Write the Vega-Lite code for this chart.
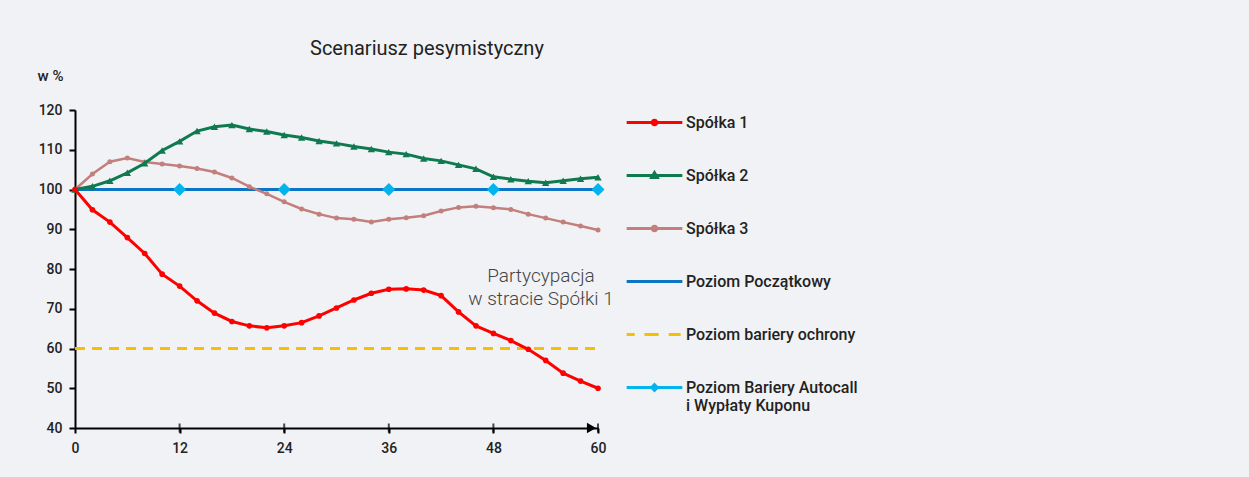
{
  "$schema": "https://vega.github.io/schema/vega-lite/v6.json",
  "width": 523,
  "height": 318,
  "autosize": {"type": "none"},
  "padding": {"left": 75, "top": 110, "right": 651, "bottom": 49},
  "background": "#f1f2f6",
  "title": {
    "text": "Scenariusz pesymistyczny",
    "anchor": "start",
    "frame": "group",
    "dx": 235,
    "offset": -7,
    "baseline": "alphabetic",
    "font": "Roboto",
    "fontSize": 20,
    "fontWeight": 400,
    "color": "#222"
  },
  "config": {"view": {"stroke": null}, "font": "Roboto"},
  "datasets": {
    "main": [
      {"s": "Spółka 1", "x": 0, "y": 100}, {"s": "Spółka 1", "x": 2, "y": 94.9}, {"s": "Spółka 1", "x": 4, "y": 91.8}, {"s": "Spółka 1", "x": 6, "y": 87.9}, {"s": "Spółka 1", "x": 8, "y": 83.9}, {"s": "Spółka 1", "x": 10, "y": 78.7}, {"s": "Spółka 1", "x": 12, "y": 75.7}, {"s": "Spółka 1", "x": 14, "y": 72}, {"s": "Spółka 1", "x": 16, "y": 68.9}, {"s": "Spółka 1", "x": 18, "y": 66.8}, {"s": "Spółka 1", "x": 20, "y": 65.7}, {"s": "Spółka 1", "x": 22, "y": 65.2}, {"s": "Spółka 1", "x": 24, "y": 65.7}, {"s": "Spółka 1", "x": 26, "y": 66.5}, {"s": "Spółka 1", "x": 28, "y": 68.2}, {"s": "Spółka 1", "x": 30, "y": 70.2}, {"s": "Spółka 1", "x": 32, "y": 72.2}, {"s": "Spółka 1", "x": 34, "y": 73.9}, {"s": "Spółka 1", "x": 36, "y": 74.9}, {"s": "Spółka 1", "x": 38, "y": 75}, {"s": "Spółka 1", "x": 40, "y": 74.7}, {"s": "Spółka 1", "x": 42, "y": 73.3}, {"s": "Spółka 1", "x": 44, "y": 69.2}, {"s": "Spółka 1", "x": 46, "y": 65.7}, {"s": "Spółka 1", "x": 48, "y": 63.8}, {"s": "Spółka 1", "x": 50, "y": 62}, {"s": "Spółka 1", "x": 52, "y": 59.8}, {"s": "Spółka 1", "x": 54, "y": 57}, {"s": "Spółka 1", "x": 56, "y": 53.8}, {"s": "Spółka 1", "x": 58, "y": 51.8}, {"s": "Spółka 1", "x": 60, "y": 50},
      {"s": "Spółka 2", "x": 0, "y": 100}, {"s": "Spółka 2", "x": 2, "y": 100.8}, {"s": "Spółka 2", "x": 4, "y": 102.2}, {"s": "Spółka 2", "x": 6, "y": 104.2}, {"s": "Spółka 2", "x": 8, "y": 106.6}, {"s": "Spółka 2", "x": 10, "y": 109.8}, {"s": "Spółka 2", "x": 12, "y": 112.1}, {"s": "Spółka 2", "x": 14, "y": 114.7}, {"s": "Spółka 2", "x": 16, "y": 115.8}, {"s": "Spółka 2", "x": 18, "y": 116.2}, {"s": "Spółka 2", "x": 20, "y": 115.2}, {"s": "Spółka 2", "x": 22, "y": 114.6}, {"s": "Spółka 2", "x": 24, "y": 113.7}, {"s": "Spółka 2", "x": 26, "y": 113.1}, {"s": "Spółka 2", "x": 28, "y": 112.2}, {"s": "Spółka 2", "x": 30, "y": 111.6}, {"s": "Spółka 2", "x": 32, "y": 110.8}, {"s": "Spółka 2", "x": 34, "y": 110.2}, {"s": "Spółka 2", "x": 36, "y": 109.4}, {"s": "Spółka 2", "x": 38, "y": 108.9}, {"s": "Spółka 2", "x": 40, "y": 107.8}, {"s": "Spółka 2", "x": 42, "y": 107.2}, {"s": "Spółka 2", "x": 44, "y": 106.2}, {"s": "Spółka 2", "x": 46, "y": 105.2}, {"s": "Spółka 2", "x": 48, "y": 103.2}, {"s": "Spółka 2", "x": 50, "y": 102.6}, {"s": "Spółka 2", "x": 52, "y": 102.1}, {"s": "Spółka 2", "x": 54, "y": 101.7}, {"s": "Spółka 2", "x": 56, "y": 102.2}, {"s": "Spółka 2", "x": 58, "y": 102.7}, {"s": "Spółka 2", "x": 60, "y": 103.1},
      {"s": "Spółka 3", "x": 0, "y": 100}, {"s": "Spółka 3", "x": 2, "y": 103.9}, {"s": "Spółka 3", "x": 4, "y": 107}, {"s": "Spółka 3", "x": 6, "y": 107.9}, {"s": "Spółka 3", "x": 8, "y": 106.9}, {"s": "Spółka 3", "x": 10, "y": 106.4}, {"s": "Spółka 3", "x": 12, "y": 105.9}, {"s": "Spółka 3", "x": 14, "y": 105.3}, {"s": "Spółka 3", "x": 16, "y": 104.4}, {"s": "Spółka 3", "x": 18, "y": 102.9}, {"s": "Spółka 3", "x": 20, "y": 100.7}, {"s": "Spółka 3", "x": 22, "y": 98.9}, {"s": "Spółka 3", "x": 24, "y": 96.9}, {"s": "Spółka 3", "x": 26, "y": 95.1}, {"s": "Spółka 3", "x": 28, "y": 93.8}, {"s": "Spółka 3", "x": 30, "y": 92.8}, {"s": "Spółka 3", "x": 32, "y": 92.5}, {"s": "Spółka 3", "x": 34, "y": 91.8}, {"s": "Spółka 3", "x": 36, "y": 92.5}, {"s": "Spółka 3", "x": 38, "y": 92.9}, {"s": "Spółka 3", "x": 40, "y": 93.4}, {"s": "Spółka 3", "x": 42, "y": 94.6}, {"s": "Spółka 3", "x": 44, "y": 95.5}, {"s": "Spółka 3", "x": 46, "y": 95.8}, {"s": "Spółka 3", "x": 48, "y": 95.4}, {"s": "Spółka 3", "x": 50, "y": 95}, {"s": "Spółka 3", "x": 52, "y": 93.8}, {"s": "Spółka 3", "x": 54, "y": 92.8}, {"s": "Spółka 3", "x": 56, "y": 91.8}, {"s": "Spółka 3", "x": 58, "y": 90.8}, {"s": "Spółka 3", "x": 60, "y": 89.8},
      {"s": "Poziom Początkowy", "x": 0, "y": 100}, {"s": "Poziom Początkowy", "x": 60, "y": 100},
      {"s": "Poziom bariery ochrony", "x": 0, "y": 60}, {"s": "Poziom bariery ochrony", "x": 60, "y": 60},
      {"s": "Poziom Bariery Autocall i Wypłaty Kuponu", "x": 12, "y": 100}, {"s": "Poziom Bariery Autocall i Wypłaty Kuponu", "x": 24, "y": 100}, {"s": "Poziom Bariery Autocall i Wypłaty Kuponu", "x": 36, "y": 100}, {"s": "Poziom Bariery Autocall i Wypłaty Kuponu", "x": 48, "y": 100}, {"s": "Poziom Bariery Autocall i Wypłaty Kuponu", "x": 60, "y": 100}
    ],
    "legendRows": [
      {"s": "Spółka 1", "x": 0, "y": 100},
      {"s": "Spółka 2", "x": 0, "y": 100},
      {"s": "Spółka 3", "x": 0, "y": 100},
      {"s": "Poziom Początkowy", "x": 0, "y": 100},
      {"s": "Poziom bariery ochrony", "x": 0, "y": 60},
      {"s": "Poziom Bariery Autocall i Wypłaty Kuponu", "x": 12, "y": 100}
    ],
    "arrow": [{"x": 59.25, "y": 40}],
    "xticks": [{"x": 12, "y": 40}, {"x": 24, "y": 40}, {"x": 36, "y": 40}, {"x": 48, "y": 40}, {"x": 60, "y": 40}],
    "note": [{"x": 53.46, "y": 78.2, "t": "Partycypacja\nw stracie Spółki 1"}]
  },
  "data": {"name": "main"},
  "encoding": {
    "x": {
      "field": "x", "type": "quantitative",
      "scale": {"domain": [0, 60], "nice": false, "zero": false},
      "axis": {
        "values": [0, 12, 24, 36, 48, 60], "title": null, "grid": false,
        "domainColor": "#000", "domainWidth": 2, "tickColor": "#000", "tickWidth": 2, "tickSize": 5,
        "labelFont": "Roboto", "labelFontSize": 14, "labelFontWeight": 500, "labelColor": "#222",
        "labelPadding": 8, "labelFlush": false, "labelOverlap": false
      }
    },
    "y": {
      "field": "y", "type": "quantitative",
      "scale": {"domain": [40, 120], "nice": false, "zero": false},
      "axis": {
        "values": [40, 50, 60, 70, 80, 90, 100, 110, 120], "title": "w %", "grid": false,
        "titleAngle": 0, "titleX": -25, "titleY": -35, "titleAlign": "center", "titleBaseline": "middle",
        "titleFont": "Roboto", "titleFontSize": 15, "titleFontWeight": 500, "titleColor": "#222",
        "domainColor": "#000", "domainWidth": 2, "tickColor": "#000", "tickWidth": 2, "tickSize": 6,
        "labelFont": "Roboto", "labelFontSize": 14, "labelFontWeight": 500, "labelColor": "#222",
        "labelPadding": 7, "labelOverlap": false
      }
    },
    "color": {
      "field": "s", "type": "nominal",
      "scale": {
        "domain": ["Spółka 1", "Spółka 2", "Spółka 3", "Poziom Początkowy", "Poziom bariery ochrony", "Poziom Bariery Autocall i Wypłaty Kuponu"],
        "range": ["#ff0000", "#0f7a4f", "#c27f7c", "#0b74c4", "#f5c000", "#00b4f0"]
      }
    }
  },
  "layer": [
    {
      "data": {"name": "legendRows"},
      "mark": {"type": "point", "opacity": 0},
      "encoding": {
        "color": {
          "field": "s", "type": "nominal",
          "legend": {
            "title": null, "orient": "none", "legendX": 550, "legendY": -17, "padding": 0,
            "symbolSize": 3102, "symbolStrokeWidth": 3, "labelOffset": 2, "rowPadding": 15,
            "labelFont": "Roboto", "labelFontSize": 16, "labelFontWeight": 500, "labelColor": "#222", "labelLimit": 400,
            "labelExpr": "datum.value === 'Poziom Bariery Autocall i Wypłaty Kuponu' ? ['Poziom Bariery Autocall', 'i Wypłaty Kuponu'] : datum.label",
            "encode": {
              "symbols": {"update": {"opacity": {"value": 1}, "shape": {"scale": "shape", "field": "value"}, "fill": {"scale": "color", "field": "value"}, "stroke": {"scale": "color", "field": "value"}, "strokeWidth": {"value": 3}, "strokeDash": {"value": [1, 0]}}},
              "labels": {"update": {"lineHeight": {"value": 20}, "dy": {"signal": "datum.value === 'Poziom Bariery Autocall i Wypłaty Kuponu' ? 10 : 0"}}}
            }
          }
        },
        "shape": {
          "field": "s", "type": "nominal",
          "scale": {
            "domain": ["Spółka 1", "Spółka 2", "Spółka 3", "Poziom Początkowy", "Poziom bariery ochrony", "Poziom Bariery Autocall i Wypłaty Kuponu"],
            "range": [
              "M-1,0H1M0.08,0A0.08,0.08,0,1,1,-0.08,0A0.08,0.08,0,1,1,0.08,0Z",
              "M-1,0H1M0,-0.1L0.1,0.07L-0.1,0.07Z",
              "M-1,0H1M0.08,0A0.08,0.08,0,1,1,-0.08,0A0.08,0.08,0,1,1,0.08,0Z",
              "M-1,0H1",
              "M-1,0H-0.71M-0.36,0H0.15M0.51,0H0.94",
              "M-1,0H1M0,-0.1L0.1,0L0,0.1L-0.1,0Z"
            ]
          },
          "legend": {
            "title": null, "orient": "none", "legendX": 550, "legendY": -17, "padding": 0,
            "symbolSize": 3102, "symbolStrokeWidth": 3, "labelOffset": 2, "rowPadding": 15,
            "labelFont": "Roboto", "labelFontSize": 16, "labelFontWeight": 500, "labelColor": "#222", "labelLimit": 400,
            "labelExpr": "datum.value === 'Poziom Bariery Autocall i Wypłaty Kuponu' ? ['Poziom Bariery Autocall', 'i Wypłaty Kuponu'] : datum.label",
            "encode": {
              "symbols": {"update": {"opacity": {"value": 1}, "shape": {"scale": "shape", "field": "value"}, "fill": {"scale": "color", "field": "value"}, "stroke": {"scale": "color", "field": "value"}, "strokeWidth": {"value": 3}, "strokeDash": {"value": [1, 0]}}},
              "labels": {"update": {"lineHeight": {"value": 20}, "dy": {"signal": "datum.value === 'Poziom Bariery Autocall i Wypłaty Kuponu' ? 10 : 0"}}}
            }
          }
        }
      }
    },
    {
      "transform": [{"filter": "datum.s === 'Poziom bariery ochrony'"}],
      "mark": {"type": "line", "strokeWidth": 3, "strokeDash": [10, 7]}
    },
    {
      "transform": [{"filter": "datum.s === 'Poziom Początkowy'"}],
      "mark": {"type": "line", "strokeWidth": 3}
    },
    {
      "transform": [{"filter": "datum.s === 'Spółka 3'"}],
      "mark": {"type": "line", "strokeWidth": 2.5, "point": {"filled": true, "size": 25}}
    },
    {
      "transform": [{"filter": "datum.s === 'Spółka 2'"}],
      "mark": {"type": "line", "strokeWidth": 3, "point": {"filled": true, "shape": "triangle-up", "size": 55}}
    },
    {
      "transform": [{"filter": "datum.s === 'Spółka 1'"}],
      "mark": {"type": "line", "strokeWidth": 3, "point": {"filled": true, "size": 32}}
    },
    {
      "transform": [{"filter": "datum.s === 'Poziom Bariery Autocall i Wypłaty Kuponu'"}],
      "mark": {"type": "point", "shape": "diamond", "filled": true, "size": 170, "opacity": 1}
    },
    {
      "data": {"name": "xticks"},
      "mark": {"type": "tick", "orient": "vertical", "size": 9, "thickness": 2},
      "encoding": {"color": {"value": "#000"}}
    },
    {
      "data": {"name": "arrow"},
      "mark": {"type": "point", "shape": "triangle-right", "filled": true, "size": 110, "opacity": 1},
      "encoding": {"color": {"value": "#000"}}
    },
    {
      "data": {"name": "note"},
      "mark": {"type": "text", "lineBreak": "\n", "font": "Roboto", "fontSize": 19, "fontWeight": 300, "lineHeight": 23, "align": "center", "baseline": "middle"},
      "encoding": {"text": {"field": "t"}, "color": {"value": "#444"}}
    }
  ]
}
